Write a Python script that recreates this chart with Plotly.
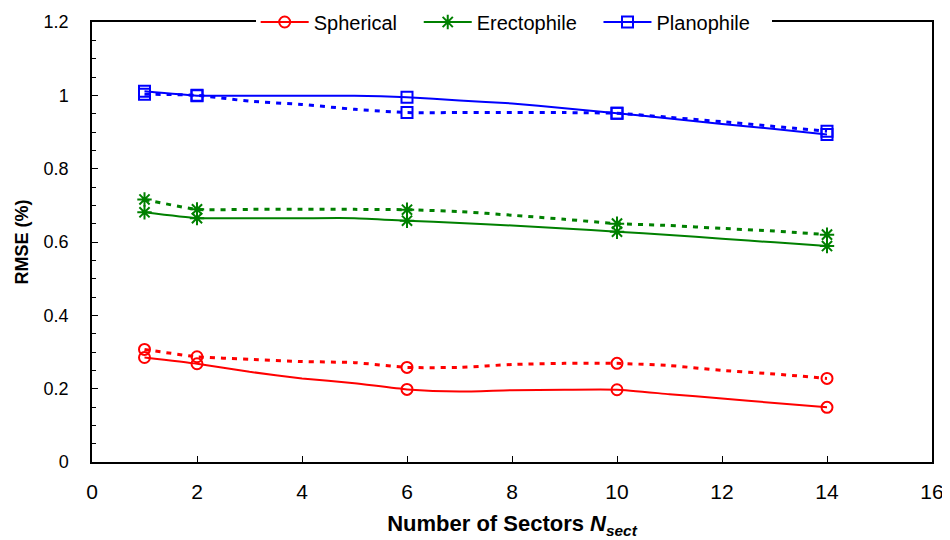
import plotly.graph_objects as go

# number of sectors, line data (every integer) and marker data
x_line = list(range(1, 15))
x_mark = [1, 2, 6, 10, 14]

sph_solid = [0.285, 0.268, 0.246, 0.228, 0.215, 0.198, 0.192, 0.196, 0.197, 0.197, 0.185, 0.173, 0.161, 0.149]
sph_dot = [0.307, 0.287, 0.280, 0.274, 0.271, 0.258, 0.258, 0.266, 0.269, 0.269, 0.263, 0.250, 0.240, 0.228]
ere_solid = [0.681, 0.665, 0.665, 0.665, 0.665, 0.658, 0.652, 0.645, 0.637, 0.628, 0.619, 0.609, 0.599, 0.589]
ere_dot = [0.716, 0.689, 0.689, 0.689, 0.689, 0.688, 0.683, 0.673, 0.662, 0.650, 0.645, 0.637, 0.630, 0.620]
pla_solid = [1.011, 0.999, 0.999, 0.999, 0.999, 0.995, 0.986, 0.978, 0.965, 0.951, 0.937, 0.922, 0.908, 0.893]
pla_dot = [1.003, 1.000, 0.984, 0.975, 0.962, 0.953, 0.953, 0.953, 0.953, 0.951, 0.940, 0.928, 0.915, 0.902]

names = ["Spherical", "Erectophile", "Planophile"]
colors = ["#ff0000", "#008000", "#0000ff"]
symbols = ["circle-open", "asterisk-open", "square-open"]
msizes = [11, 12, 11]
solids = [sph_solid, ere_solid, pla_solid]
dots = [sph_dot, ere_dot, pla_dot]

fig = go.Figure()

for name, c, sym, ms, ys, yd in zip(names, colors, symbols, msizes, solids, dots):
    # marker values taken at the marked sector counts
    ms_solid = [ys[x_line.index(v)] for v in x_mark]
    ms_dot = [yd[x_line.index(v)] for v in x_mark]
    fig.add_trace(go.Scatter(x=x_line, y=ys, mode="lines", line=dict(color=c, width=2, shape="spline", smoothing=0.5),
                             showlegend=False, hoverinfo="skip"))
    fig.add_trace(go.Scatter(x=x_line, y=yd, mode="lines",
                             line=dict(color=c, width=3, dash="5px,6px", shape="spline", smoothing=0.5),
                             showlegend=False, hoverinfo="skip"))
    for yv in (ms_solid, ms_dot):
        fig.add_trace(go.Scatter(x=x_mark, y=yv, mode="markers",
                                 marker=dict(symbol=sym, size=ms, color=c, line=dict(color=c, width=2)),
                                 showlegend=False))
    # legend entry (trailing spaces widen the gap between items)
    fig.add_trace(go.Scatter(x=[None], y=[None], mode="lines+markers", name=name + "\u00a0" * 3,
                             line=dict(color=c, width=2),
                             marker=dict(symbol=sym, size=ms, color=c, line=dict(color=c, width=2))))

# the page body adds an 8px offset, so the figure is 8px smaller and margins shifted
fig.update_layout(
    width=942, height=532,
    margin=dict(l=84, r=18, t=14, b=78, autoexpand=False),
    paper_bgcolor="white", plot_bgcolor="white",
    font=dict(family="Liberation Sans, Arial, sans-serif", size=18, color="black"),
    legend=dict(orientation="h", x=0.502, xanchor="center", y=1.0, yanchor="middle",
                bgcolor="white", font=dict(size=20), itemwidth=48, tracegroupgap=0),
    xaxis=dict(range=[0, 16], dtick=2, tick0=0, ticks="inside", ticklen=6, tickcolor="black",
               showline=True, linecolor="black", linewidth=1.5, mirror=True,
               showgrid=False, zeroline=False, ticklabelstandoff=10,
               tickfont=dict(size=21),
               title=dict(text="Number of Sectors <i>N</i><sub><i>sect</i></sub>", standoff=14,
                          font=dict(size=22, weight="bold"))),
    yaxis=dict(range=[0, 1.2], dtick=0.2, tick0=0, ticks="inside", ticklen=6, tickcolor="black",
               minor=dict(dtick=0.05, ticks="inside", ticklen=4, tickcolor="black"),
               showline=True, linecolor="black", linewidth=1.5, mirror=True,
               showgrid=False, zeroline=False, ticklabelstandoff=18,
               title=dict(text="RMSE (%)", standoff=10, font=dict(size=18, weight="bold"))),
)

fig.write_html("out.html")
